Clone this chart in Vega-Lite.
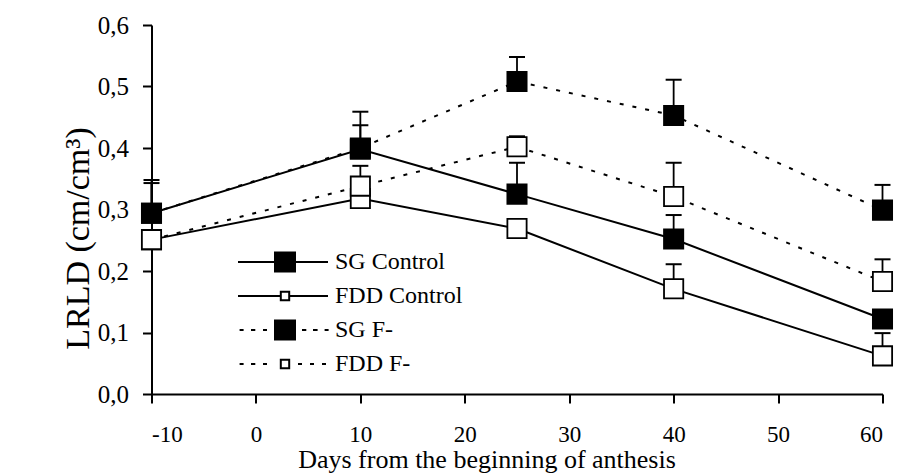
{
  "$schema": "https://vega.github.io/schema/vega-lite/v6.json",
  "width": 731,
  "height": 369,
  "autosize": "none",
  "padding": {"left": 151.5, "top": 25, "right": 32.5, "bottom": 81},
  "background": "white",
  "config": {
    "view": {"stroke": null},
    "font": "Liberation Serif",
    "style": {
      "guide-label": {"font": "Liberation Serif", "fill": "black"},
      "guide-title": {"font": "Liberation Serif", "fill": "black"}
    },
    "axis": {
      "grid": false,
      "domainColor": "black",
      "domainWidth": 2,
      "tickColor": "black",
      "tickWidth": 2,
      "tickSize": 9,
      "labelColor": "black",
      "labelFont": "Liberation Serif",
      "titleColor": "black",
      "titleFont": "Liberation Serif",
      "titleFontWeight": "normal"
    },
    "legend": {
      "labelFont": "Liberation Serif",
      "labelFontSize": 24,
      "labelColor": "black"
    }
  },
  "data": {
    "values": [
      {"series": "SG Control", "day": -10, "value": 0.294, "hi": 0.348},
      {"series": "SG Control", "day": 10, "value": 0.398, "hi": 0.437},
      {"series": "SG Control", "day": 25, "value": 0.325, "hi": 0.376},
      {"series": "SG Control", "day": 40, "value": 0.252, "hi": 0.291},
      {"series": "SG Control", "day": 60, "value": 0.122, "hi": null},
      {"series": "FDD Control", "day": -10, "value": 0.251, "hi": null},
      {"series": "FDD Control", "day": 10, "value": 0.318, "hi": null},
      {"series": "FDD Control", "day": 25, "value": 0.269, "hi": null},
      {"series": "FDD Control", "day": 40, "value": 0.171, "hi": 0.211},
      {"series": "FDD Control", "day": 60, "value": 0.062, "hi": 0.099},
      {"series": "SG F-", "day": -10, "value": 0.294, "hi": 0.343},
      {"series": "SG F-", "day": 10, "value": 0.4, "hi": 0.459},
      {"series": "SG F-", "day": 25, "value": 0.508, "hi": 0.548},
      {"series": "SG F-", "day": 40, "value": 0.453, "hi": 0.511},
      {"series": "SG F-", "day": 60, "value": 0.299, "hi": 0.34},
      {"series": "FDD F-", "day": -10, "value": 0.251, "hi": null},
      {"series": "FDD F-", "day": 10, "value": 0.338, "hi": 0.371},
      {"series": "FDD F-", "day": 25, "value": 0.402, "hi": 0.419},
      {"series": "FDD F-", "day": 40, "value": 0.321, "hi": 0.376},
      {"series": "FDD F-", "day": 60, "value": 0.183, "hi": 0.219}
    ]
  },
  "encoding": {
    "x": {
      "field": "day",
      "type": "quantitative",
      "scale": {"domain": [-10, 60], "nice": false, "zero": false},
      "axis": {
        "values": [-10, 0, 10, 20, 30, 40, 50, 60],
        "labelExpr": "datum.value + ''",
        "labelFontSize": 23,
        "labelPadding": 20,
        "title": "Days from the beginning of anthesis",
        "titleFontSize": 26,
        "titleX": 335,
        "titleY": 73,
        "titleBaseline": "alphabetic"
      }
    },
    "y": {
      "field": "value",
      "type": "quantitative",
      "scale": {"domain": [0, 0.6], "nice": false},
      "axis": {
        "values": [0, 0.1, 0.2, 0.3, 0.4, 0.5, 0.6],
        "labelExpr": "replace(format(datum.value, '.1f'), '.', ',')",
        "labelFontSize": 25,
        "labelPadding": 14,
        "title": "LRLD (cm/cm³)",
        "titleFontSize": 34,
        "titleAngle": -90,
        "titleX": -63.5,
        "titleY": 213,
        "titleBaseline": "alphabetic"
      }
    }
  },
  "layer": [
    {
      "transform": [{"filter": "indexof(datum.series, 'Control') >= 0"}],
      "mark": {"type": "line", "color": "black", "strokeWidth": 2},
      "encoding": {"detail": {"field": "series", "type": "nominal"}}
    },
    {
      "transform": [{"filter": "indexof(datum.series, 'F-') >= 0"}],
      "mark": {"type": "line", "color": "black", "strokeWidth": 2, "strokeDash": [4, 9]},
      "encoding": {"detail": {"field": "series", "type": "nominal"}}
    },
    {
      "transform": [{"filter": "datum.hi != null"}],
      "mark": {"type": "rule", "color": "black", "strokeWidth": 1.8},
      "encoding": {"y2": {"field": "hi"}}
    },
    {
      "transform": [{"filter": "datum.hi != null"}],
      "mark": {"type": "tick", "orient": "horizontal", "color": "black", "size": 16, "thickness": 2, "opacity": 1},
      "encoding": {"y": {"field": "hi", "type": "quantitative"}}
    },
    {
      "mark": {"type": "point", "shape": "square", "size": 370, "filled": true, "stroke": "black", "strokeWidth": 1.8, "opacity": 1},
      "encoding": {
        "fill": {
          "field": "series",
          "type": "nominal",
          "scale": {
            "domain": ["SG Control", "FDD Control", "SG F-", "FDD F-"],
            "range": ["black", "white", "black", "white"]
          },
          "legend": {"title": null}
        }
      }
    },
    {
      "transform": [{"filter": "false"}],
      "mark": {"type": "point", "size": 400, "filled": true, "stroke": "black", "strokeWidth": 2, "opacity": 1},
      "encoding": {
        "fill": {
          "field": "series",
          "type": "nominal",
          "scale": {
            "domain": ["SG Control", "FDD Control", "SG F-", "FDD F-"],
            "range": ["black", "white", "black", "white"]
          },
          "legend": {"title": null}
        },
        "shape": {
          "field": "series",
          "type": "nominal",
          "scale": {
            "domain": ["SG Control", "FDD Control", "SG F-", "FDD F-"],
            "range": [
              "M-4.7,0H-1M1,0H4.3M-1,-0.95H1V0.95H-1Z",
              "M-4.7,0H-0.42M0.42,0H4.3M-0.42,-0.42H0.42V0.42H-0.42Z",
              "M-4.54,0H-4.14M-3.4,0H-2.97M-2.2,0H-1.8M1.7,0H2.13M2.8,0H3.26M3.96,0H4.36M-1,-0.95H1V0.95H-1Z",
              "M-4.54,0H-4.14M-3.4,0H-2.97M-2.2,0H-1.8M1.3,0H1.7M2.5,0H2.9M3.7,0H4.1M-0.42,-0.42H0.42V0.42H-0.42Z"
            ]
          },
          "legend": {
            "title": null,
            "orient": "none",
            "legendX": 121.5,
            "legendY": 225,
            "padding": 0,
            "rowPadding": 8,
            "labelOffset": 38,
            "labelFontSize": 24,
            "labelFont": "Liberation Serif",
            "labelColor": "black",
            "labelLimit": 300,
            "symbolSize": 400,
            "symbolStrokeWidth": 2,
            "symbolStrokeColor": "black",
            "symbolOpacity": 1
          }
        }
      }
    }
  ]
}
